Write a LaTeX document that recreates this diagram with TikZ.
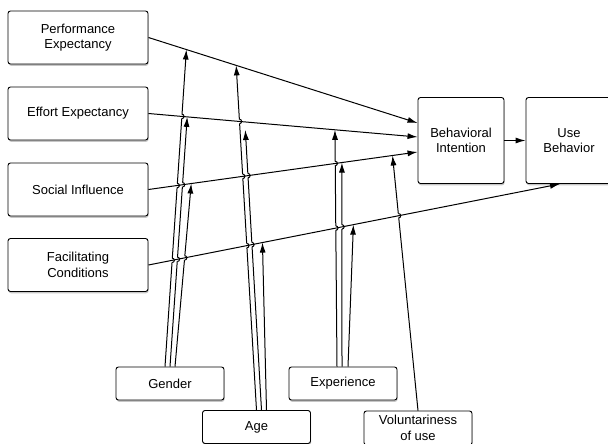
\documentclass[tikz,border=0pt]{standalone}
\usepackage{fontspec}
\setmainfont{Liberation Sans}
\usetikzlibrary{arrows.meta,shadows,calc,intersections}

\begin{document}
\begin{tikzpicture}[x=1pt,y=-1pt,>={Latex[length=10pt,width=6pt]},line width=1pt,
  box/.style={draw, rounded corners=2.5pt, fill=white, line width=0.9pt, align=center,
    inner sep=0pt, font=\fontsize{13}{15.5}\selectfont,
    drop shadow={shadow xshift=0.6pt, shadow yshift=-1.8pt, opacity=0.45}},
  construct/.style={box, minimum width=140pt, minimum height=53pt},
  outcome/.style={box, minimum width=86pt, minimum height=86pt},
  moderator/.style={box, minimum width=108pt, minimum height=33pt}]
  \useasboundingbox (0,0) rectangle (608,444);

  % Nodes
  \node[construct] (PE) at (78,37.5) {Performance\\Expectancy};
  \node[construct] (EE) at (78,113.5) {Effort Expectancy};
  \node[construct] (SI) at (78,189.5) {Social Influence};
  \node[construct] (FC) at (78,265) {Facilitating\\Conditions};
  \node[outcome] (BI) at (461,140.5) {Behavioral\\Intention};
  \node[outcome] (UB) at (569,140.5) {Use\\Behavior};
  \node[moderator] (Gender) at (170,383.5) {Gender};
  \node[moderator] (Age) at (256.5,427) {Age};
  \node[moderator] (Exp) at (343,383.5) {Experience};
  \node[moderator, minimum height=34pt] (Vol) at (418,428) {Voluntariness\\of use};

  \coordinate (bi1) at ($(BI.west)+(0,-17.5)$);
  \coordinate (bi2) at ($(BI.west)+(0,-3.5)$);
  \coordinate (bi3) at ($(BI.west)+(0,11.5)$);
  \coordinate (ub1) at ($(UB.south)+(-9,0)$);

  % Moderators
  \draw[->, name path=g1] ($(Gender.north)+(-5,0)$) -- ($(PE.east)!0.141!(bi1)$);
  \draw[->, name path=g2] (Gender.north) -- ($(EE.east)!0.144!(bi2)$);
  \draw[->, name path=g3] ($(Gender.north)+(5,0)$) -- ($(SI.east)!0.159!(bi3)$);
  \draw[->, name path=a1] (Age.north) -- ($(PE.east)!0.326!(bi1)$);
  \draw[->, name path=a2] ($(Age.north)+(5,0)$) -- ($(EE.east)!0.36!(bi2)+(0,8)$);
  \draw[->, name path=a3] ($(Age.north)+(10,0)$) -- ($(FC.east)!0.277!(ub1)$);
  \draw[->, name path=e1] ($(Exp.north)+(-6,0)$) -- ($(EE.east)!0.693!(bi2)$);
  \draw[->, name path=e2] ($(Exp.north)+(-1,0)$) -- ($(SI.east)!0.719!(bi3)$);
  \draw[->, name path=e3] ($(Exp.north)+(5,0)$) -- ($(FC.east)!0.498!(ub1)$);
  \draw[->, name path=vol] (Vol.north) -- ($(SI.east)!0.907!(bi3)$);

  % Line hops
  \path[name path=ee] (EE.east) -- (bi2);
  \path[name path=si] (SI.east) -- (bi3);
  \path[name path=fc] (FC.east) -- (ub1);
  \foreach \m/\l in {g1/ee,g1/si,g1/fc,g2/si,g2/fc,g3/fc,a1/ee,a1/si,a1/fc,
                     a2/si,a2/fc,e1/si,e1/fc,e2/fc,vol/fc}{
    \path[name intersections={of={\m} and {\l}, by=hx}];
    \fill[white] (hx) circle (2.2);
    \draw (hx) ++(0,-2.2) arc[start angle=-90, end angle=90, radius=2.2];
  }

  % Arrows
  \draw[->] (PE.east) -- (bi1);
  \draw[->] (EE.east) -- (bi2);
  \draw[->] (SI.east) -- (bi3);
  \draw[->] (FC.east) -- (ub1);
  \draw[->] (BI.east) -- (UB.west);
\end{tikzpicture}
\end{document}
